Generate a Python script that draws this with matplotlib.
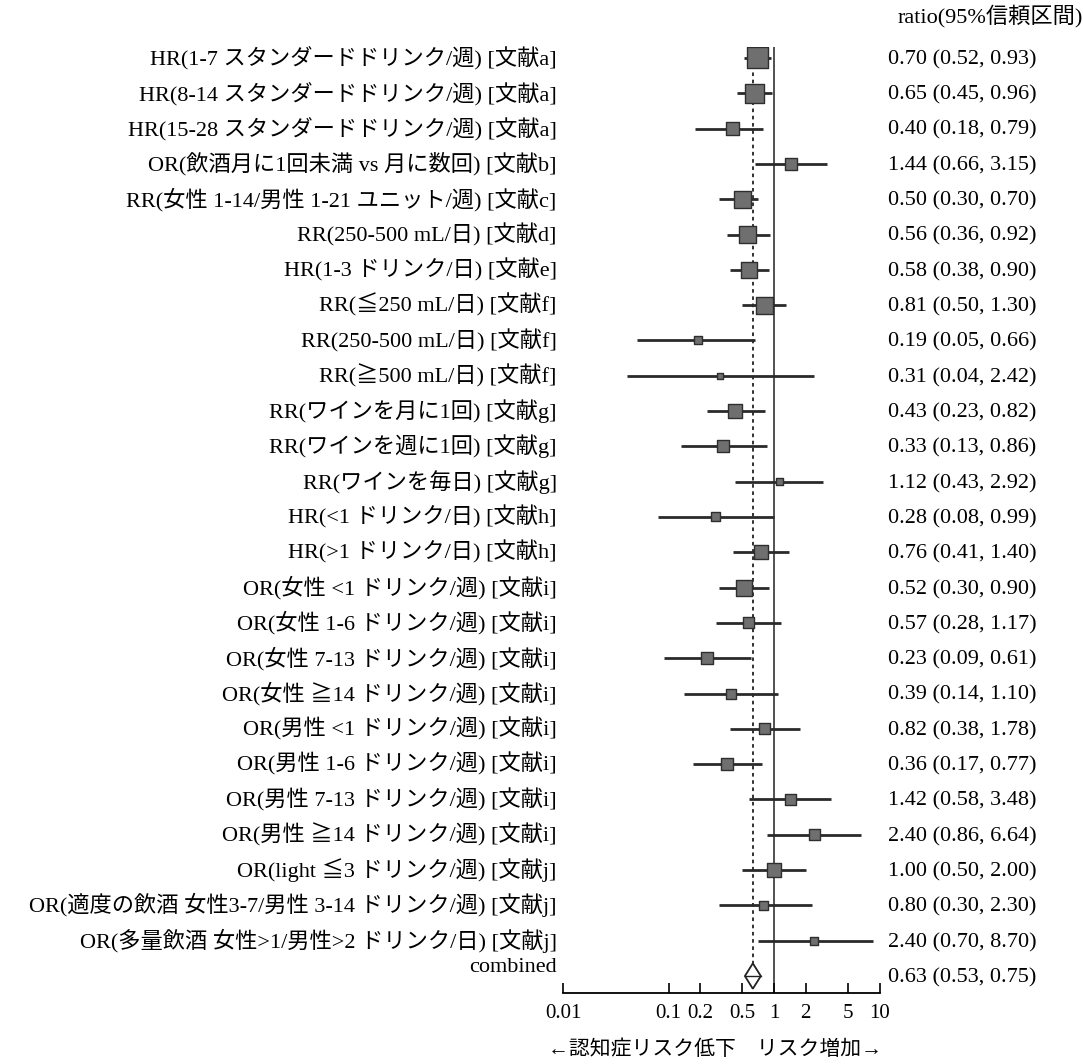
import numpy as np
import matplotlib
matplotlib.use("Agg")
import matplotlib.pyplot as plt
from matplotlib.transforms import blended_transform_factory

plt.rcParams["font.family"] = ["Liberation Serif", "Noto Sans CJK JP", "DejaVu Sans"]

labels = [
    "HR(1-7 スタンダードドリンク/週) [文献a]",
    "HR(8-14 スタンダードドリンク/週) [文献a]",
    "HR(15-28 スタンダードドリンク/週) [文献a]",
    "OR(飲酒月に1回未満 vs 月に数回) [文献b]",
    "RR(女性 1-14/男性 1-21 ユニット/週) [文献c]",
    "RR(250-500 mL/日) [文献d]",
    "HR(1-3 ドリンク/日) [文献e]",
    "RR(≦250 mL/日) [文献f]",
    "RR(250-500 mL/日) [文献f]",
    "RR(≧500 mL/日) [文献f]",
    "RR(ワインを月に1回) [文献g]",
    "RR(ワインを週に1回) [文献g]",
    "RR(ワインを毎日) [文献g]",
    "HR(<1 ドリンク/日) [文献h]",
    "HR(>1 ドリンク/日) [文献h]",
    "OR(女性 <1 ドリンク/週) [文献i]",
    "OR(女性 1-6 ドリンク/週) [文献i]",
    "OR(女性 7-13 ドリンク/週) [文献i]",
    "OR(女性 ≧14 ドリンク/週) [文献i]",
    "OR(男性 <1 ドリンク/週) [文献i]",
    "OR(男性 1-6 ドリンク/週) [文献i]",
    "OR(男性 7-13 ドリンク/週) [文献i]",
    "OR(男性 ≧14 ドリンク/週) [文献i]",
    "OR(light ≦3 ドリンク/週) [文献j]",
    "OR(適度の飲酒 女性3-7/男性 3-14 ドリンク/週) [文献j]",
    "OR(多量飲酒 女性>1/男性>2 ドリンク/日) [文献j]",
]
ratio = [0.70, 0.65, 0.40, 1.44, 0.50, 0.56, 0.58, 0.81, 0.19, 0.31, 0.43, 0.33, 1.12,
         0.28, 0.76, 0.52, 0.57, 0.23, 0.39, 0.82, 0.36, 1.42, 2.40, 1.00, 0.80, 2.40]
ci_low = [0.52, 0.45, 0.18, 0.66, 0.30, 0.36, 0.38, 0.50, 0.05, 0.04, 0.23, 0.13, 0.43,
          0.08, 0.41, 0.30, 0.28, 0.09, 0.14, 0.38, 0.17, 0.58, 0.86, 0.50, 0.30, 0.70]
ci_high = [0.93, 0.96, 0.79, 3.15, 0.70, 0.92, 0.90, 1.30, 0.66, 2.42, 0.82, 0.86, 2.92,
           0.99, 1.40, 0.90, 1.17, 0.61, 1.10, 1.78, 0.77, 3.48, 6.64, 2.00, 2.30, 8.70]
# box side in pixels (study weight)
box_px = [21, 19, 13, 12, 17, 17, 16, 17, 8, 6, 14, 12, 7, 9, 14, 16,
          11, 12, 10, 11, 12, 11, 11, 14, 9, 8]

combined = (0.63, 0.53, 0.75)
xticks = [0.01, 0.1, 0.2, 0.5, 1, 2, 5, 10]
xticklabels = ["0.01", "0.1", "0.2", "0.5", "1", "2", "5", "10"]

W, H = 1083, 1064
fig = plt.figure(figsize=(W / 100, H / 100), dpi=100)
ax = fig.add_axes([563 / W, 1 - 993 / H, 316.5 / W, (993 - 47) / H])

n = len(labels)
ys = np.arange(n)
y_comb = n

ax.set_xscale("log")
ax.set_xlim(0.01, 10)
ax.set_ylim(n + 0.48, -0.31)

# reference lines
ax.axvline(1, color="#333333", lw=1.2, zorder=1)
ax.plot([combined[0], combined[0]], [0, y_comb - 0.36], color="#222222", lw=1.3,
        ls=(0, (2, 2)), zorder=1)

# CIs and boxes
ax.hlines(ys, ci_low, ci_high, color="#2a2a2a", lw=2.0, zorder=2)
sizes = [(0.72 * s) ** 2 for s in box_px]
ax.scatter(ratio, ys, s=sizes, marker="s", color="#6f6f6f", edgecolor="#2e2e2e",
           linewidths=1.0, zorder=3)

# combined diamond
est, lo, hi = combined
h = 0.36
ax.fill([lo, est, hi, est], [y_comb, y_comb - h, y_comb, y_comb + h],
        facecolor="white", edgecolor="#222222", lw=1.3, zorder=3)
ax.plot([lo, hi], [y_comb, y_comb], color="#222222", lw=1.0, zorder=4)

# axis styling
for sp in ["top", "right", "left"]:
    ax.spines[sp].set_visible(False)
ax.spines["bottom"].set_linewidth(1.3)
ax.set_yticks([])
ax.set_xticks(xticks)
ax.set_xticklabels(xticklabels)
ax.minorticks_off()
ax.tick_params(axis="x", direction="in", length=7, width=1.2, labelsize=15, pad=8)

# left labels and right values
tr = blended_transform_factory(ax.transAxes, ax.transData)
for y, lab in zip(ys, labels):
    ax.text(-0.02, y, lab, transform=tr, ha="right", va="center", fontsize=16)
ax.text(-0.02, y_comb - 0.25, "combined", transform=tr, ha="right", va="center", fontsize=16)

for y, r, l, u in zip(ys, ratio, ci_low, ci_high):
    ax.text(1.027, y + 0.05, f"{r:.2f} ({l:.2f}, {u:.2f})", transform=tr, ha="left",
            va="center", fontsize=16)
ax.text(1.027, y_comb + 0.05, f"{est:.2f} ({lo:.2f}, {hi:.2f})", transform=tr, ha="left",
        va="center", fontsize=16)
ax.text(1.058, -1.19, "ratio(95%信頼区間)", transform=tr, ha="left", va="center",
        fontsize=16)

fig.text(715 / W, 1 - 1050 / H, "←認知症リスク低下　リスク増加→", ha="center",
         va="center", fontsize=15)

fig.savefig("out.png", dpi=100)
